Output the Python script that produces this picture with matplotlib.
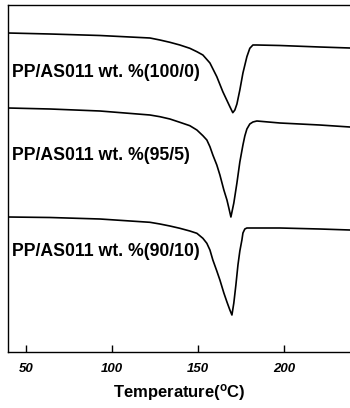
import matplotlib
matplotlib.use("Agg")
import matplotlib.pyplot as plt

plt.rcParams['font.family'] = ['Liberation Sans', 'DejaVu Sans']
plt.rcParams['mathtext.fontset'] = 'custom'
plt.rcParams['mathtext.rm'] = 'Liberation Sans:bold'
plt.rcParams['mathtext.it'] = 'Liberation Sans:bold:italic'

# Temperature (°C) and heat-flow (arbitrary, stacked)
temp_100_0 = [39.5, 64.0, 93.0, 122.1, 127.9, 133.7, 139.5, 145.3, 149.4, 152.9, 157.0,
              161.0, 164.5, 168.6, 170.3, 171.5, 172.7, 174.4, 176.2, 178.5, 180.2, 182.0,
              184.3, 197.7, 220.9, 238.4]
heat_100_0 = [319, 318, 316.5, 314, 312, 309.7, 307, 303.7, 300.3, 297, 289,
              275.3, 260.3, 245.3, 239.3, 242, 248, 262, 279, 295.3, 303.7, 307,
              307, 306.5, 305, 304]

temp_95_5 = [39.5, 64.0, 93.0, 122.1, 127.9, 133.7, 139.5, 145.3, 149.4, 152.9, 155.2,
             157.0, 158.7, 161.0, 162.8, 165.1, 166.9, 168.0, 169.2, 170.9, 172.7, 174.4,
             176.2, 177.3, 178.5, 180.2, 182.0, 184.3, 197.7, 220.9, 238.4]
heat_95_5 = [244, 243, 241, 237, 235.3, 233, 229.7, 226.3, 222, 216.3, 212,
             205.3, 197, 187, 177, 162, 152, 144, 135, 149, 169, 190,
             207, 216, 223, 228, 230, 231, 229, 227, 225]

temp_90_10 = [39.5, 64.0, 93.0, 122.1, 127.9, 133.7, 139.5, 145.3, 149.4, 152.9, 155.2,
              157.0, 158.7, 161.0, 162.8, 165.1, 166.9, 168.6, 169.8, 170.9, 172.1, 173.3,
              174.4, 175.6, 176.2, 177.3, 178.5, 197.7, 220.9, 238.4]
heat_90_10 = [135, 134.5, 133, 129.7, 128, 126, 123.7, 121, 118.7, 113.7, 108.7,
              102, 92, 81, 72, 59, 50, 42, 37, 49, 67, 87,
              101, 112, 119, 123, 124, 124, 123, 122]

labels = ["PP/AS011 wt. %(100/0)", "PP/AS011 wt. %(95/5)", "PP/AS011 wt. %(90/10)"]
label_y = [280, 197, 101]
xticks = [50, 100, 150, 200]

fig = plt.figure(figsize=(3.5, 4.08), dpi=100)
ax = fig.add_axes([8/350, 1-352/408, 1-8/350, 347/408])

for t, h in [(temp_100_0, heat_100_0), (temp_95_5, heat_95_5), (temp_90_10, heat_90_10)]:
    ax.plot(t, h, color='black', lw=1.2, solid_joinstyle='round')

for lab, ly in zip(labels, label_y):
    ax.text(41.8, ly, lab, fontsize=12.7, fontweight='bold', va='center', ha='left')

ax.set_xlim(39.5, 238.5)
ax.set_ylim(0, 347)
ax.set_yticks([])
ax.set_xticks(xticks)
ax.set_xticklabels([str(v) for v in xticks], fontsize=9.5, fontweight='bold', fontstyle='italic')
ax.tick_params(axis='x', direction='in', length=5, width=1, pad=8)
ax.spines['right'].set_visible(False)
for s in ['left', 'top', 'bottom']:
    ax.spines[s].set_linewidth(1.0)
ax.set_xlabel(r'Temperature($^{\mathrm{o}}$C)', fontsize=12, fontweight='bold', labelpad=5)

fig.savefig('out.png', dpi=100)
